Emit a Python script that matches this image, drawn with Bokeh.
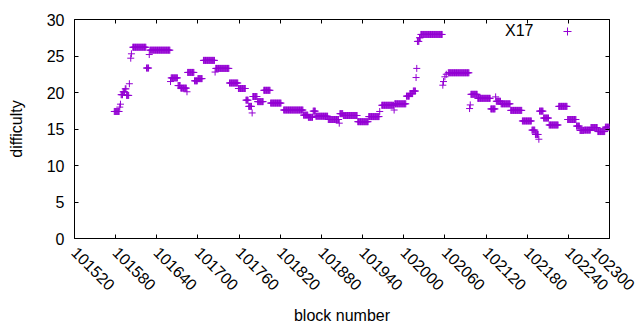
import math
from bokeh.plotting import figure
from bokeh.models import (Range1d, FixedTicker, LinearAxis, Legend, LegendItem,
                          ColumnDataSource, BasicTickFormatter)
from bokeh.embed import file_html
from bokeh.resources import INLINE

# Difficulty runs: first block, last block, difficulty
run_first = [101578, 101586, 101587, 101588, 101591, 101594, 101596, 101600, 101602, 101603,
             101605, 101625, 101629, 101630, 101660, 101661, 101671, 101675, 101684, 101685,
             101695, 101700, 101708, 101725, 101726, 101746, 101759, 101770, 101774, 101779,
             101780, 101787, 101796, 101806, 101825, 101854, 101861, 101868, 101872, 101890,
             101906, 101907, 101912, 101933, 101949, 101965, 101968, 101986, 101987, 102004,
             102009, 102014, 102018, 102019, 102020, 102023, 102025, 102057, 102058, 102060,
             102062, 102065, 102096, 102097, 102098, 102108, 102127, 102134, 102135, 102142,
             102156, 102173, 102187, 102192, 102197, 102198, 102204, 102212, 102226, 102239,
             102252, 102257, 102263, 102273, 102283, 102294]
run_last = [101585, 101586, 101587, 101590, 101593, 101595, 101599, 101600, 101602, 101603,
            101624, 101628, 101629, 101659, 101660, 101670, 101674, 101683, 101684, 101694,
            101699, 101706, 101724, 101725, 101745, 101758, 101769, 101773, 101778, 101779,
            101786, 101795, 101805, 101821, 101853, 101860, 101867, 101871, 101889, 101905,
            101906, 101911, 101932, 101948, 101964, 101965, 101985, 101986, 102003, 102008,
            102013, 102017, 102018, 102019, 102022, 102024, 102056, 102057, 102058, 102060,
            102062, 102095, 102096, 102097, 102107, 102126, 102133, 102134, 102141, 102155,
            102172, 102186, 102191, 102196, 102197, 102203, 102211, 102225, 102238, 102251,
            102256, 102262, 102272, 102282, 102293, 102300]
run_difficulty = [17.4, 18.0, 18.4, 19.7, 20.1, 20.5, 19.6, 21.2, 24.7, 25.3,
                  26.2, 23.35, 25.2, 25.8, 21.5, 22.0, 20.95, 20.6, 20.1, 22.75,
                  21.6, 21.9, 24.4, 22.8, 23.3, 21.3, 20.55, 18.95, 18.1, 17.2,
                  19.45, 18.75, 20.3, 18.55, 17.6, 16.9, 16.6, 17.45, 16.75, 16.3,
                  15.8, 17.1, 16.85, 16.0, 16.7, 17.4, 18.25, 17.6, 18.45, 19.5,
                  19.85, 20.2, 22.05, 23.3, 27.0, 27.5, 27.95, 21.0, 21.5, 22.15,
                  22.5, 22.7, 17.8, 18.3, 19.75, 19.2, 17.75, 19.4, 18.8, 18.45,
                  17.55, 16.1, 14.85, 14.25, 13.6, 17.45, 16.5, 15.55, 18.1, 16.3,
                  15.4, 14.8, 14.85, 15.2, 14.65, 15.25]

x_ticks = [101520, 101580, 101640, 101700, 101760, 101820, 101880, 101940,
           102000, 102060, 102120, 102180, 102240, 102300]
y_ticks = [0, 5, 10, 15, 20, 25, 30]
series_name = "X17"

blocks, diffs = [], []
for a, b, d in zip(run_first, run_last, run_difficulty):
    for blk in range(a, b + 1):
        blocks.append(blk)
        diffs.append(d)
src = ColumnDataSource(dict(block=blocks, difficulty=diffs))

FONT = "Liberation Sans"
FS = "16px"
COLOR = "#9400D3"

p = figure(width=636, height=328, output_backend="svg", toolbar_location=None,
           x_range=Range1d(x_ticks[0], x_ticks[-1]), y_range=Range1d(y_ticks[0], y_ticks[-1]),
           min_border_left=74, min_border_right=27, min_border_top=19, min_border_bottom=90,
           x_axis_label="block number", y_axis_label="difficulty")
p.grid.visible = False
p.outline_line_color = "black"
p.outline_line_alpha = 1
p.outline_line_width = 1
p.background_fill_color = "white"
p.border_fill_color = "white"

def style(ax, ticks):
    ax.ticker = FixedTicker(ticks=ticks)
    ax.formatter = BasicTickFormatter(use_scientific=False)
    ax.axis_line_color = None
    ax.major_tick_in = 4
    ax.major_tick_out = 0
    ax.major_tick_line_color = "black"
    ax.minor_tick_line_color = None
    ax.major_label_text_font = FONT
    ax.major_label_text_font_size = FS
    ax.major_label_text_color = "black"
    ax.axis_label_text_font = FONT
    ax.axis_label_text_font_size = FS
    ax.axis_label_text_font_style = "normal"
    ax.axis_label_text_color = "black"

style(p.xaxis[0], x_ticks)
style(p.yaxis[0], y_ticks)
p.xaxis[0].major_label_orientation = -math.pi / 4
p.xaxis[0].major_label_standoff = 11
p.xaxis[0].axis_label_standoff = 8
p.yaxis[0].major_label_standoff = 10
p.yaxis[0].axis_label_standoff = 19

top = LinearAxis()
style(top, x_ticks)
top.major_label_overrides = {t: "" for t in x_ticks}
top.major_label_standoff = 0
p.add_layout(top, "above")
right = LinearAxis()
style(right, y_ticks)
right.major_label_overrides = {t: "" for t in y_ticks}
right.major_label_standoff = 0
p.add_layout(right, "right")

r = p.scatter(x="block", y="difficulty", source=src, marker="cross", size=7,
              line_color=COLOR, line_width=1)
# invisible renderer: carries the key text, which gnuplot puts left of the sample
r_txt = p.scatter(x=[], y=[], marker="cross", size=7, line_alpha=0, fill_alpha=0)

common = dict(padding=0, margin=0, spacing=0, border_line_color=None,
              background_fill_alpha=0, glyph_height=20, label_height=20,
              label_text_font=FONT, label_text_font_size=FS, label_text_color="black")
key_text = Legend(items=[LegendItem(label=series_name, renderers=[r_txt])],
                  location=(430, 197), glyph_width=1, label_standoff=0, **common)
key_mark = Legend(items=[LegendItem(label=" ", renderers=[r])],
                  location=(483, 197), glyph_width=20, label_standoff=0, **common)
p.add_layout(key_text)
p.add_layout(key_mark)

open("out.html", "w").write(file_html(p, INLINE))
